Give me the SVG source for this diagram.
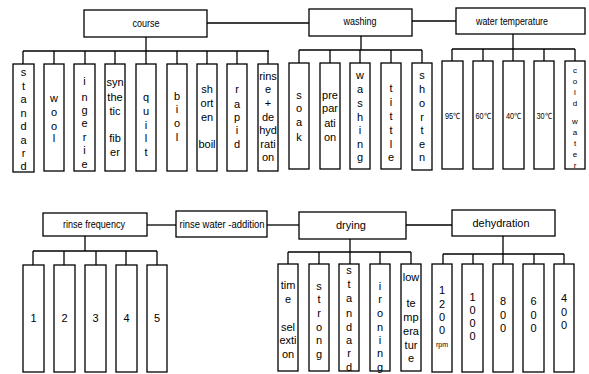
<svg xmlns="http://www.w3.org/2000/svg" width="589" height="374" viewBox="0 0 589 374">
<style>
rect{fill:#fff;stroke:#000;stroke-width:1.3}
.c line{stroke:#000;stroke-width:1.3}
text{font-family:"Liberation Sans Narrow","Liberation Sans",Arial,sans-serif;font-size:11px;fill:#000;text-anchor:middle}
.h{font-size:11px}
.s{font-size:8.5px}
.t{font-size:8px}
.r{font-size:7px}
</style>
<rect x="0" y="0" width="589" height="374" style="stroke:none"/>
<g class="c" id="connectors">
<line x1="207" y1="23" x2="309" y2="23"/>
<line x1="412" y1="21" x2="456" y2="21"/>
<line x1="147" y1="225" x2="176" y2="225"/>
<line x1="267" y1="225" x2="299" y2="225"/>
<line x1="406" y1="225" x2="452" y2="225"/>
<line x1="146" y1="37" x2="146" y2="51"/>
<line x1="23" y1="51" x2="269" y2="51"/>
<line x1="23" y1="51" x2="23" y2="64"/><line x1="54" y1="51" x2="54" y2="64"/><line x1="85" y1="51" x2="85" y2="64"/><line x1="115" y1="51" x2="115" y2="64"/><line x1="146" y1="51" x2="146" y2="64"/><line x1="177" y1="51" x2="177" y2="64"/><line x1="207" y1="51" x2="207" y2="64"/><line x1="237" y1="51" x2="237" y2="64"/><line x1="268" y1="51" x2="268" y2="64"/>
<line x1="361" y1="36" x2="361" y2="50"/>
<line x1="299" y1="50" x2="422" y2="50"/>
<line x1="299" y1="50" x2="299" y2="63"/><line x1="330" y1="50" x2="330" y2="63"/><line x1="360" y1="50" x2="360" y2="63"/><line x1="391" y1="50" x2="391" y2="63"/><line x1="422" y1="50" x2="422" y2="63"/>
<line x1="513" y1="34" x2="513" y2="49"/>
<line x1="452" y1="49" x2="575" y2="49"/>
<line x1="452" y1="49" x2="452" y2="61"/><line x1="483" y1="49" x2="483" y2="61"/><line x1="513" y1="49" x2="513" y2="61"/><line x1="544" y1="49" x2="544" y2="61"/><line x1="575" y1="49" x2="575" y2="61"/>
<line x1="85" y1="236" x2="85" y2="251"/>
<line x1="33" y1="251" x2="157" y2="251"/>
<line x1="33" y1="251" x2="33" y2="265"/><line x1="64" y1="251" x2="64" y2="265"/><line x1="96" y1="251" x2="96" y2="265"/><line x1="126" y1="251" x2="126" y2="265"/><line x1="157" y1="251" x2="157" y2="265"/>
<line x1="350" y1="239" x2="350" y2="252"/>
<line x1="288" y1="252" x2="411" y2="252"/>
<line x1="288" y1="252" x2="288" y2="264"/><line x1="319" y1="252" x2="319" y2="264"/><line x1="350" y1="252" x2="350" y2="264"/><line x1="380" y1="252" x2="380" y2="264"/><line x1="411" y1="252" x2="411" y2="264"/>
<line x1="503" y1="236" x2="503" y2="254"/>
<line x1="443" y1="254" x2="564" y2="254"/>
<line x1="443" y1="254" x2="443" y2="264"/><line x1="473" y1="254" x2="473" y2="264"/><line x1="503" y1="254" x2="503" y2="264"/><line x1="534" y1="254" x2="534" y2="264"/><line x1="564" y1="254" x2="564" y2="264"/>
</g>

<g id="course"><rect x="84" y="10" width="123" height="27"/><text class="h" x="146" y="27" textLength="27" lengthAdjust="spacingAndGlyphs">course</text></g>
<g id="washing"><rect x="309" y="9" width="103" height="27"/><text class="h" x="360" y="25" textLength="33" lengthAdjust="spacingAndGlyphs">washing</text></g>
<g id="water-temperature"><rect x="456" y="8" width="129" height="26"/><text class="h" x="512" y="25" textLength="72" lengthAdjust="spacingAndGlyphs">water temperature</text></g>
<g id="rinse-frequency"><rect x="43" y="213" width="104" height="23"/><text class="h" x="94" y="228" textLength="62" lengthAdjust="spacingAndGlyphs">rinse frequency</text></g>
<g id="rinse-water-addition"><rect x="176" y="211" width="91" height="26"/><text class="h" x="222" y="228" textLength="85" lengthAdjust="spacingAndGlyphs">rinse water -addition</text></g>
<g id="drying"><rect x="299" y="212" width="107" height="27"/><text class="h" x="351" y="229" textLength="30" lengthAdjust="spacingAndGlyphs">drying</text></g>
<g id="dehydration"><rect x="452" y="210" width="103" height="26"/><text class="h" x="501" y="227" textLength="57" lengthAdjust="spacingAndGlyphs">dehydration</text></g>

<g id="standard"><rect x="13" y="64" width="21" height="108"/><text x="23.5"><tspan x="23.5" y="76">s</tspan><tspan x="23.5" y="89.5">t</tspan><tspan x="23.5" y="103">a</tspan><tspan x="23.5" y="116.5">n</tspan><tspan x="23.5" y="130">d</tspan><tspan x="23.5" y="143.5">a</tspan><tspan x="23.5" y="157">r</tspan><tspan x="23.5" y="170">d</tspan></text></g>
<g id="wool"><rect x="44" y="64" width="20" height="107"/><text><tspan x="54" y="102">w</tspan><tspan x="54" y="116">o</tspan><tspan x="54" y="130">o</tspan><tspan x="54" y="142">l</tspan></text></g>
<g id="lingerie"><rect x="74" y="64" width="21" height="107"/><text><tspan x="84.5" y="85">i</tspan><tspan x="84.5" y="101">n</tspan><tspan x="84.5" y="114">g</tspan><tspan x="84.5" y="127">e</tspan><tspan x="84.5" y="141">r</tspan><tspan x="84.5" y="154">i</tspan><tspan x="84.5" y="168">e</tspan></text></g>
<g id="synthetic-fiber"><rect x="105" y="64" width="20" height="107"/><text><tspan x="115" y="86">syn</tspan><tspan x="115" y="101">the</tspan><tspan x="115" y="115">tic</tspan><tspan x="115" y="142">fib</tspan><tspan x="115" y="156">er</tspan></text></g>
<g id="quilt"><rect x="136" y="64" width="20" height="107"/><text><tspan x="146" y="101">q</tspan><tspan x="146" y="115">u</tspan><tspan x="146" y="129">i</tspan><tspan x="146" y="142">l</tspan><tspan x="146" y="156">t</tspan></text></g>
<g id="biol"><rect x="167" y="64" width="20" height="107"/><text><tspan x="177" y="100">b</tspan><tspan x="177" y="113">i</tspan><tspan x="177" y="127">o</tspan><tspan x="177" y="141">l</tspan></text></g>
<g id="shorten-boil"><rect x="197" y="64" width="20" height="107"/><text><tspan x="207" y="93">sh</tspan><tspan x="207" y="107">ort</tspan><tspan x="207" y="121">en</tspan><tspan x="207" y="148">boil</tspan></text></g>
<g id="rapid"><rect x="227" y="64" width="20" height="107"/><text><tspan x="237" y="93">r</tspan><tspan x="237" y="108">a</tspan><tspan x="237" y="121">p</tspan><tspan x="237" y="134">i</tspan><tspan x="237" y="148">d</tspan></text></g>
<g id="rinse-dehydration"><rect x="258" y="64" width="20" height="107"/><text><tspan x="268" y="80">rins</tspan><tspan x="268" y="93">e</tspan><tspan x="268" y="107">+</tspan><tspan x="268" y="121">de</tspan><tspan x="268" y="134">hyd</tspan><tspan x="268" y="148">rati</tspan><tspan x="268" y="161">on</tspan></text></g>

<g id="soak"><rect x="289" y="63" width="20" height="106"/><text><tspan x="299" y="99">s</tspan><tspan x="299" y="112">o</tspan><tspan x="299" y="126">a</tspan><tspan x="299" y="141">k</tspan></text></g>
<g id="preparation"><rect x="320" y="63" width="20" height="106"/><text><tspan x="330" y="99">pre</tspan><tspan x="330" y="112">par</tspan><tspan x="330" y="127">ati</tspan><tspan x="330" y="141">on</tspan></text></g>
<g id="washing-mode"><rect x="350" y="63" width="20" height="106"/><text><tspan x="360" y="79">w</tspan><tspan x="360" y="93">a</tspan><tspan x="360" y="107">s</tspan><tspan x="360" y="121">h</tspan><tspan x="360" y="134">i</tspan><tspan x="360" y="148">n</tspan><tspan x="360" y="161">g</tspan></text></g>
<g id="tittle"><rect x="381" y="63" width="20" height="106"/><text><tspan x="391" y="92">t</tspan><tspan x="391" y="106">i</tspan><tspan x="391" y="120">t</tspan><tspan x="391" y="134">t</tspan><tspan x="391" y="148">l</tspan><tspan x="391" y="161">e</tspan></text></g>
<g id="shorten"><rect x="412" y="63" width="20" height="107"/><text><tspan x="422" y="79">s</tspan><tspan x="422" y="93">h</tspan><tspan x="422" y="107">o</tspan><tspan x="422" y="121">r</tspan><tspan x="422" y="134">t</tspan><tspan x="422" y="148">e</tspan><tspan x="422" y="161">n</tspan></text></g>

<g id="t95"><rect x="442" y="61" width="21" height="108"/><text class="s" x="452.5" y="119" textLength="15" lengthAdjust="spacingAndGlyphs">95℃</text></g>
<g id="t60"><rect x="473" y="61" width="20" height="108"/><text class="s" x="483" y="119" textLength="15" lengthAdjust="spacingAndGlyphs">60℃</text></g>
<g id="t40"><rect x="503" y="61" width="21" height="108"/><text class="s" x="513.5" y="119" textLength="15" lengthAdjust="spacingAndGlyphs">40℃</text></g>
<g id="t30"><rect x="534" y="61" width="20" height="108"/><text class="s" x="544" y="119" textLength="15" lengthAdjust="spacingAndGlyphs">30℃</text></g>
<g id="cold-water"><rect x="565" y="61" width="20" height="108"/><text class="t"><tspan x="575" y="73">c</tspan><tspan x="575" y="84">o</tspan><tspan x="575" y="95">l</tspan><tspan x="575" y="106">d</tspan><tspan x="575" y="124">w</tspan><tspan x="575" y="135">a</tspan><tspan x="575" y="146">t</tspan><tspan x="575" y="157">e</tspan><tspan x="575" y="168">r</tspan></text></g>

<g id="f1"><rect x="23" y="265" width="21" height="107"/><text x="33.5" y="322">1</text></g>
<g id="f2"><rect x="54" y="265" width="21" height="107"/><text x="64.5" y="322">2</text></g>
<g id="f3"><rect x="85" y="265" width="21" height="107"/><text x="95.5" y="322">3</text></g>
<g id="f4"><rect x="116" y="265" width="21" height="107"/><text x="126.5" y="322">4</text></g>
<g id="f5"><rect x="147" y="265" width="20" height="107"/><text x="157" y="322">5</text></g>

<g id="time-selextion"><rect x="278" y="264" width="20" height="107"/><text><tspan x="288" y="289">tim</tspan><tspan x="288" y="303">e</tspan><tspan x="288" y="331">sel</tspan><tspan x="288" y="344">exti</tspan><tspan x="288" y="358">on</tspan></text></g>
<g id="strong"><rect x="309" y="264" width="20" height="107"/><text><tspan x="319" y="290">s</tspan><tspan x="319" y="303">t</tspan><tspan x="319" y="317">r</tspan><tspan x="319" y="331">o</tspan><tspan x="319" y="344">n</tspan><tspan x="319" y="358">g</tspan></text></g>
<g id="standard-dry"><rect x="339" y="264" width="20" height="107"/><text><tspan x="349" y="274">s</tspan><tspan x="349" y="288">t</tspan><tspan x="349" y="302">a</tspan><tspan x="349" y="317">n</tspan><tspan x="349" y="331">d</tspan><tspan x="349" y="344">a</tspan><tspan x="349" y="357">r</tspan><tspan x="349" y="371">d</tspan></text></g>
<g id="ironing"><rect x="370" y="264" width="20" height="107"/><text><tspan x="380" y="290">i</tspan><tspan x="380" y="303">r</tspan><tspan x="380" y="317">o</tspan><tspan x="380" y="331">n</tspan><tspan x="380" y="344">i</tspan><tspan x="380" y="357">n</tspan><tspan x="380" y="371">g</tspan></text></g>
<g id="low-temperature"><rect x="401" y="264" width="20" height="107"/><text><tspan x="411" y="281">low</tspan><tspan x="411" y="307">te</tspan><tspan x="411" y="321">mp</tspan><tspan x="411" y="335">era</tspan><tspan x="411" y="349">tur</tspan><tspan x="411" y="362">e</tspan></text></g>

<g id="r1200"><rect x="432" y="264" width="20" height="108"/><text><tspan x="442" y="294">1</tspan><tspan x="442" y="308">2</tspan><tspan x="442" y="321">0</tspan><tspan x="442" y="334">0</tspan></text><text class="r" x="442" y="347">rpm</text></g>
<g id="r1000"><rect x="462" y="264" width="21" height="108"/><text><tspan x="472.5" y="301">1</tspan><tspan x="472.5" y="314">0</tspan><tspan x="472.5" y="327">0</tspan><tspan x="472.5" y="340">0</tspan></text></g>
<g id="r800"><rect x="493" y="264" width="20" height="108"/><text><tspan x="503" y="305">8</tspan><tspan x="503" y="319">0</tspan><tspan x="503" y="332">0</tspan></text></g>
<g id="r600"><rect x="523" y="264" width="21" height="108"/><text><tspan x="533.5" y="305">6</tspan><tspan x="533.5" y="319">0</tspan><tspan x="533.5" y="332">0</tspan></text></g>
<g id="r400"><rect x="554" y="264" width="20" height="108"/><text><tspan x="564" y="302">4</tspan><tspan x="564" y="316">0</tspan><tspan x="564" y="329">0</tspan></text></g>
</svg>
